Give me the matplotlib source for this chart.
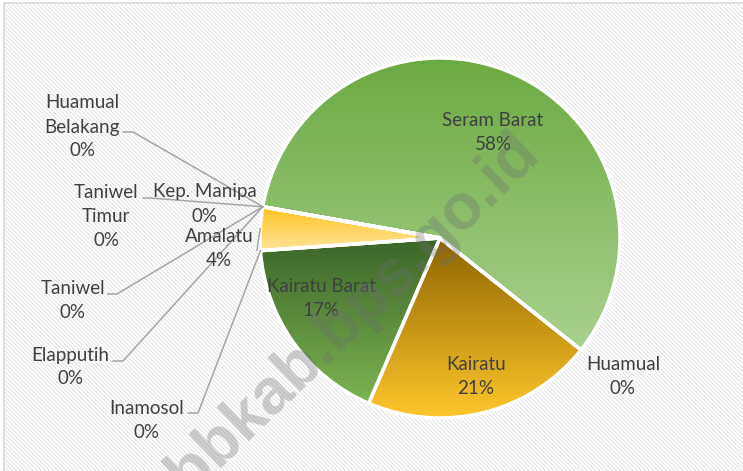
import numpy as np
import matplotlib
matplotlib.use('Agg')
import matplotlib.pyplot as plt
from matplotlib.colors import LinearSegmentedColormap
from matplotlib.patches import Rectangle

# data kecamatan (urutan searah jarum jam)
kecamatan = ['Huamual Belakang', 'Kep. Manipa', 'Seram Barat', 'Huamual', 'Kairatu',
             'Kairatu Barat', 'Inamosol', 'Amalatu', 'Elapputih', 'Taniwel', 'Taniwel Timur']
nilai = [0, 0, 57.9, 0, 20.8, 17.4, 0, 3.9, 0, 0, 0]
teks_label = ['Huamual\nBelakang', 'Kep. Manipa', 'Seram Barat', 'Huamual', 'Kairatu',
              'Kairatu Barat', 'Inamosol', 'Amalatu', 'Elapputih', 'Taniwel', 'Taniwel\nTimur']

# warna gradasi (atas, bawah)
gradasi = {
    'Seram Barat': ('#6BAA42', '#A9D18E'),
    'Kairatu': ('#8E6400', '#FFC72C'),
    'Kairatu Barat': ('#3B6528', '#7CB452'),
    'Amalatu': ('#FFC324', '#FFE59A'),
}

W, H = 743, 471
# posisi label dalam piksel gambar (x, y dari atas)
pos_label = {
    'Huamual Belakang': (82, 127), 'Kep. Manipa': (205, 204), 'Seram Barat': (493, 133),
    'Huamual': (623, 377), 'Kairatu': (476, 376), 'Kairatu Barat': (321, 298),
    'Inamosol': (147, 420), 'Amalatu': (219, 249), 'Elapputih': (70, 367),
    'Taniwel': (73, 300), 'Taniwel Timur': (106, 216),
}
# awal garis penunjuk
pos_garis = {
    'Huamual Belakang': [(123, 132), (133, 132)],
    'Taniwel Timur': [(143, 198), (150, 198)],
    'Taniwel': [(108, 294), (117, 294)],
    'Elapputih': [(113, 361), (123, 361)],
    'Inamosol': [(188, 413), (198, 413)],
    'Amalatu': [(257, 250)],
}

plt.rcParams['font.family'] = ['Lato', 'DejaVu Sans']

fig = plt.figure(figsize=(W / 100, H / 100), dpi=100)
ax = fig.add_axes([0, 0, 1, 1])
ax.set_xlim(0, W)
ax.set_ylim(0, H)
ax.axis('off')

# latar bergaris
plt.rcParams['hatch.linewidth'] = 0.7
ax.add_patch(Rectangle((4, -20), W + 20, H - 3 + 20, facecolor='white',
                       edgecolor='#E2E2E2', hatch='\\' * 8, lw=0, zorder=0))
ax.add_patch(Rectangle((4, -20), W + 20, H - 3 + 20, facecolor='none',
                       edgecolor='#D9D9D9', lw=1.2, zorder=0.5))

cx, cy, r = 440, H - 238, 180
wedges, _ = ax.pie(nilai, startangle=170, counterclock=False, center=(cx, cy), radius=r,
                   wedgeprops=dict(edgecolor='white', linewidth=2.5), frame=True)
ax.set_aspect('auto')
ax.axis('off')

grad = np.linspace(0, 1, 256).reshape(-1, 1)
for w, nama in zip(wedges, kecamatan):
    w.set_zorder(3)
    if nama in gradasi:
        atas, bawah = gradasi[nama]
        cmap = LinearSegmentedColormap.from_list(nama, [bawah, atas])
        bb = w.get_path().get_extents()
        im = ax.imshow(grad, cmap=cmap, origin='lower', aspect='auto', zorder=2,
                       extent=[bb.x0, bb.x1, bb.y0, bb.y1])
        im.set_clip_path(w)
    w.set_facecolor('none')

ax.set_xlim(0, W)
ax.set_ylim(0, H)

total = sum(nilai)
for w, nama, lbl, v in zip(wedges, kecamatan, teks_label, nilai):
    x, y = pos_label[nama]
    ax.text(x, H - y, f'{lbl}\n{v / total * 100:.0f}%', ha='center', va='center',
            fontsize=13.5, color='#404040', linespacing=1.5, zorder=5)
    if nama in pos_garis:
        if v == 0:
            t = np.deg2rad(w.theta1)
        else:
            t = np.deg2rad((w.theta1 + w.theta2) / 2)
        ujung = (cx + r * np.cos(t), cy + r * np.sin(t))
        pts = [(px, H - py) for px, py in pos_garis[nama]] + [ujung]
        xs, ys = zip(*pts)
        ax.plot(xs, ys, color='#A6A6A6', lw=1.1, zorder=4)

# watermark
ax.text(342, H - 326, 'sbbkab.bps.go.id', rotation=44, rotation_mode='anchor',
        ha='center', va='center', fontsize=46, fontweight='bold',
        family='Liberation Sans', color='#6E6E6E', alpha=0.32, zorder=6)

fig.savefig('out.png', dpi=100)
